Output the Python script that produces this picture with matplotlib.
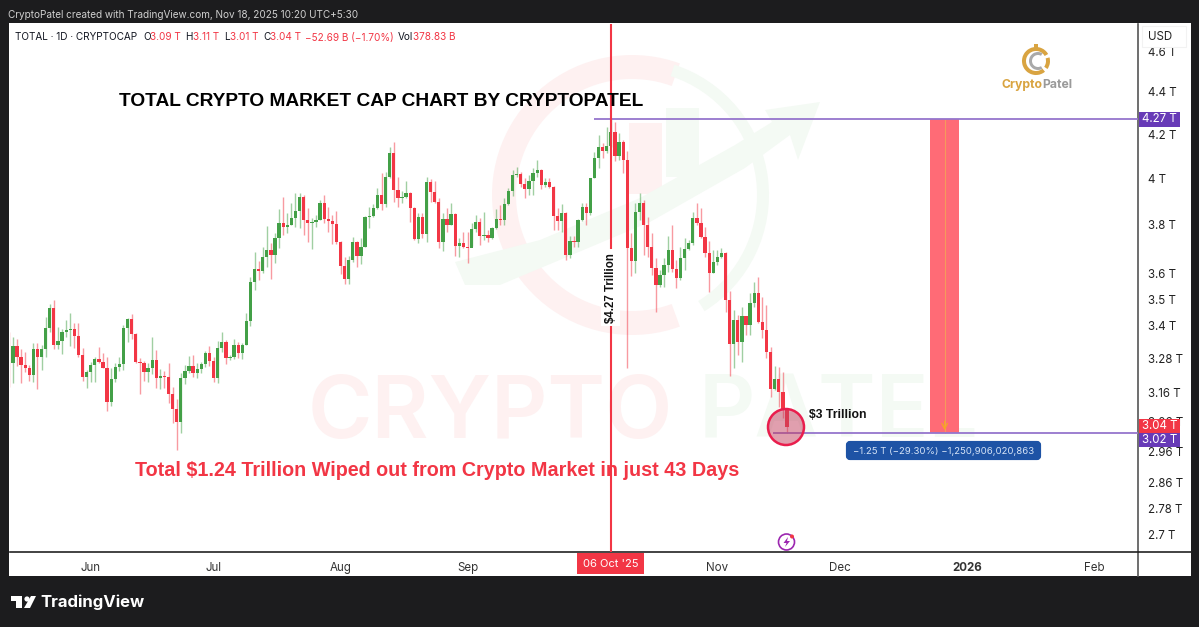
from matplotlib import pyplot as plt
from matplotlib.patches import Circle, Rectangle, Wedge, Polygon, FancyBboxPatch
import numpy as np
import pandas as pd

# Daily candles of TOTAL (trillions of USD)
first_day = '2025-05-12'
first_open = 3.275
closes = [
    3.264, 3.326, 3.286, 3.257, 3.246, 3.221, 3.315, 3.286, 3.315, 3.392,
    3.468, 3.330, 3.344, 3.378, 3.385, 3.389, 3.363, 3.293, 3.214, 3.232,
    3.257, 3.279, 3.268, 3.246, 3.127, 3.207, 3.250, 3.261, 3.392, 3.426,
    3.370, 3.268, 3.264, 3.232, 3.246, 3.275, 3.210, 3.217, 3.214, 3.154,
    3.103, 3.058, 3.210, 3.235, 3.253, 3.228, 3.243, 3.261, 3.300, 3.271,
    3.210, 3.318, 3.341, 3.282, 3.286, 3.330, 3.300, 3.330, 3.418, 3.568,
    3.620, 3.612, 3.668, 3.697, 3.676, 3.746, 3.808, 3.791, 3.800, 3.829,
    3.859, 3.919, 3.821, 3.808, 3.813, 3.821, 3.893, 3.825, 3.817, 3.804,
    3.730, 3.632, 3.580, 3.656, 3.730, 3.672, 3.709, 3.834, 3.838, 3.872,
    3.928, 3.889, 4.006, 4.114, 3.949, 3.915, 3.919, 3.936, 3.872, 3.742,
    3.834, 3.763, 3.984, 3.940, 3.897, 3.730, 3.825, 3.800, 3.846, 3.713,
    3.726, 3.709, 3.705, 3.783, 3.813, 3.754, 3.758, 3.746, 3.787, 3.825,
    3.821, 3.889, 3.945, 4.015, 4.019, 3.975, 3.953, 3.989, 4.024, 4.037,
    3.971, 3.984, 3.962, 3.838, 3.817, 3.850, 3.676, 3.734, 3.730, 3.821,
    3.876, 3.850, 4.002, 4.091, 4.141, 4.123, 4.146, 4.210, 4.100, 4.164,
    4.082, 3.705, 3.652, 3.855, 3.893, 3.800, 3.709, 3.624, 3.556, 3.596,
    3.636, 3.697, 3.620, 3.584, 3.664, 3.701, 3.726, 3.829, 3.808, 3.750,
    3.685, 3.604, 3.648, 3.668, 3.685, 3.499, 3.333, 3.422, 3.341, 3.437,
    3.404, 3.487, 3.526, 3.415, 3.385, 3.304, 3.172, 3.207, 3.161, 3.099,
    3.040]
highs = [
    3.378, 3.359, 3.352, 3.315, 3.304, 3.257, 3.337, 3.337, 3.330, 3.433,
    3.483, 3.499, 3.396, 3.389, 3.422, 3.449, 3.411, 3.411, 3.318, 3.239,
    3.268, 3.286, 3.322, 3.300, 3.286, 3.246, 3.264, 3.286, 3.404, 3.430,
    3.445, 3.374, 3.282, 3.271, 3.264, 3.359, 3.311, 3.243, 3.235, 3.264,
    3.178, 3.137, 3.228, 3.257, 3.289, 3.293, 3.264, 3.268, 3.307, 3.326,
    3.286, 3.344, 3.378, 3.348, 3.293, 3.352, 3.341, 3.337, 3.449, 3.588,
    3.689, 3.652, 3.709, 3.796, 3.726, 3.767, 3.867, 3.919, 3.850, 3.893,
    3.936, 3.936, 3.928, 3.872, 3.829, 3.842, 3.906, 3.928, 3.876, 3.842,
    3.859, 3.734, 3.668, 3.672, 3.750, 3.734, 3.746, 3.838, 3.876, 3.889,
    3.958, 4.024, 4.028, 4.141, 4.164, 4.006, 3.945, 3.989, 3.940, 3.876,
    3.850, 3.850, 4.006, 3.997, 3.989, 3.915, 3.850, 3.872, 3.893, 3.850,
    3.746, 3.771, 3.771, 3.808, 3.842, 3.829, 3.855, 3.779, 3.791, 3.867,
    3.885, 3.915, 3.958, 4.037, 4.051, 4.028, 4.002, 4.015, 4.046, 4.082,
    4.042, 4.002, 4.002, 3.967, 3.872, 3.889, 3.855, 3.754, 3.754, 3.825,
    3.893, 3.893, 4.002, 4.118, 4.196, 4.159, 4.233, 4.270, 4.256, 4.205,
    4.173, 4.123, 3.767, 3.893, 3.936, 3.906, 3.834, 3.767, 3.664, 3.616,
    3.664, 3.754, 3.800, 3.656, 3.709, 3.746, 3.738, 3.855, 3.893, 3.872,
    3.791, 3.734, 3.697, 3.697, 3.705, 3.686, 3.533, 3.460, 3.441, 3.472,
    3.437, 3.526, 3.568, 3.588, 3.510, 3.479, 3.322, 3.253, 3.250, 3.232,
    3.106]
lows = [
    3.178, 3.192, 3.253, 3.192, 3.232, 3.199, 3.196, 3.172, 3.239, 3.286,
    3.378, 3.315, 3.315, 3.297, 3.359, 3.326, 3.318, 3.286, 3.199, 3.175,
    3.196, 3.196, 3.264, 3.246, 3.096, 3.113, 3.196, 3.235, 3.239, 3.341,
    3.352, 3.264, 3.154, 3.199, 3.196, 3.225, 3.175, 3.172, 3.175, 3.123,
    3.055, 2.966, 3.022, 3.189, 3.228, 3.214, 3.210, 3.228, 3.250, 3.253,
    3.196, 3.192, 3.304, 3.261, 3.275, 3.279, 3.282, 3.279, 3.330, 3.400,
    3.537, 3.576, 3.604, 3.628, 3.580, 3.644, 3.705, 3.758, 3.767, 3.800,
    3.791, 3.787, 3.758, 3.730, 3.701, 3.791, 3.821, 3.808, 3.771, 3.722,
    3.722, 3.600, 3.560, 3.560, 3.648, 3.628, 3.640, 3.709, 3.787, 3.834,
    3.867, 3.863, 3.876, 4.002, 3.897, 3.876, 3.893, 3.915, 3.813, 3.738,
    3.726, 3.746, 3.730, 3.897, 3.893, 3.705, 3.693, 3.771, 3.800, 3.672,
    3.668, 3.705, 3.644, 3.713, 3.771, 3.717, 3.738, 3.730, 3.742, 3.783,
    3.800, 3.800, 3.885, 3.923, 4.006, 3.962, 3.915, 3.928, 3.928, 4.006,
    3.953, 3.962, 3.958, 3.779, 3.779, 3.771, 3.656, 3.664, 3.709, 3.709,
    3.817, 3.800, 3.842, 4.002, 4.046, 4.091, 4.114, 4.141, 4.077, 4.082,
    4.024, 3.246, 3.592, 3.604, 3.821, 3.676, 3.668, 3.596, 3.452, 3.549,
    3.549, 3.608, 3.608, 3.545, 3.576, 3.616, 3.697, 3.717, 3.800, 3.746,
    3.668, 3.529, 3.604, 3.636, 3.664, 3.452, 3.218, 3.246, 3.293, 3.268,
    3.366, 3.366, 3.472, 3.411, 3.355, 3.282, 3.144, 3.168, 3.110, 3.072,
    3.020]

# Axis labels
price_ticks = [4.6, 4.4, 4.2, 4, 3.8, 3.6, 3.5, 3.4, 3.28, 3.16, 3.06, 2.96, 2.86, 2.78, 2.7]
price_labels = ['4.6 T', '4.4 T', '4.2 T', '4 T', '3.8 T', '3.6 T', '3.5 T', '3.4 T',
                '3.28 T', '3.16 T', '3.06 T', '2.96 T', '2.86 T', '2.78 T', '2.7 T']
month_ticks = ['2025-06-01', '2025-07-01', '2025-08-01', '2025-09-01',
               '2025-11-01', '2025-12-01', '2026-01-01', '2026-02-01']
month_labels = ['Jun', 'Jul', 'Aug', 'Sep', 'Nov', 'Dec', '2026', 'Feb']

# Drawings on the chart
top_level = 4.27
bottom_level = 3.02
top_level_start = '2025-10-02'
bottom_level_start = '2025-11-14 12:00'
marked_day = '2025-10-06'
zone_start = '2025-12-23'
zone_end = '2025-12-30'

RED = '#F23645'
GREEN = '#43A047'
PURPLE = '#673AB7'
DARK = '#1C1C1E'
FONT = ['Inter', 'DejaVu Sans']
W, H = 1199, 627

plt.rcParams['font.family'] = FONT

dates = pd.date_range(first_day, periods=len(closes))
closes = np.array(closes)
opens = np.r_[first_open, closes[:-1]]
colors = np.where(closes >= opens, GREEN, RED)

fig = plt.figure(figsize=(W / 100, H / 100), dpi=100, facecolor=DARK)


def pixel_axes(z):
    # whole figure in image pixels, used for the page around the chart
    a = fig.add_axes([0, 0, 1, 1], zorder=z)
    a.set_xlim(0, W)
    a.set_ylim(H, 0)
    a.axis('off')
    a.patch.set_alpha(0)
    return a


under = pixel_axes(0)
over = pixel_axes(2)

# White panel
under.add_patch(Rectangle((9, 23), 1182, 553, fc='white', ec='none'))

# Watermark behind the candles
pale_red = '#FEF1F1'
pale_green = '#F4FAF4'
under.add_patch(Wedge((632, 195), 140, 70, 290, width=24, fc=pale_red, ec='none'))
under.add_patch(Wedge((632, 195), 137, -72, 58, width=12, fc=pale_green, ec='none'))
under.add_patch(Rectangle((629, 123), 33, 71, fc=pale_red, ec='none'))
under.add_patch(Rectangle((666, 108), 33, 69, fc=pale_green, ec='none'))
under.plot([682, 682], [177, 198], color=pale_green, lw=1.5)
under.add_patch(Polygon([(455, 262), (540, 240), (640, 198), (735, 145), (772, 122), (765, 110), (820, 102),
                         (798, 160), (790, 135), (745, 168), (650, 222), (555, 262), (500, 285), (465, 285)],
                        fc=pale_green, ec='none'))
under.text(308, 438, 'CRYPTO', color=pale_red, fontsize=63, fontweight='semibold', va='baseline', ha='left')
under.text(699, 438, 'PATEL', color=pale_green, fontsize=63, fontweight='semibold', va='baseline', ha='left')

# Chart axes: x 10-1138, y 24-552 in image pixels
ax = fig.add_axes([10 / W, 1 - 552 / H, 1128 / W, 528 / H], zorder=1)
ax.patch.set_alpha(0)
ax.set_yscale('log')
ax.set_ylim(2.649, 4.742)
ax.set_xlim(pd.Timestamp('2025-05-12 07:00'), pd.Timestamp('2026-02-11 17:00'))

ax.vlines(dates, lows, highs, colors=colors, linewidth=1, alpha=0.5, zorder=2)
body_low = np.minimum(opens, closes)
body_high = np.maximum(opens, closes)
ax.bar(dates, body_high - body_low, bottom=body_low, width=0.8, color=colors, linewidth=0, zorder=3)

# Price range drawings
ax.hlines(top_level, pd.Timestamp(top_level_start), ax.get_xlim()[1], color='#9575CD', lw=1.3, zorder=4)
ax.hlines(bottom_level, pd.Timestamp(bottom_level_start), ax.get_xlim()[1], color='#9575CD', lw=1.3, zorder=4)
ax.fill_between([pd.Timestamp(zone_start), pd.Timestamp(zone_end)], bottom_level, top_level,
                color='#FF6B76', lw=0, zorder=1)
zone_mid = pd.Timestamp(zone_start) + (pd.Timestamp(zone_end) - pd.Timestamp(zone_start)) / 2
ax.vlines(zone_mid, bottom_level, top_level, color='#F59A5A', lw=0.8, zorder=2)
ax.annotate('', xy=(zone_mid, bottom_level), xytext=(zone_mid, 3.07),
            arrowprops=dict(arrowstyle='->', color='#F5A623', lw=0.9), zorder=2)

ax.axvline(pd.Timestamp(marked_day), color=RED, lw=1.5, zorder=4)
ax.text(pd.Timestamp(marked_day), 3.545, '$4.27 Trillion', rotation=90, ha='center', va='center',
        fontsize=8.3, fontweight='bold', color='#111111', zorder=5,
        bbox=dict(fc='white', ec='none', pad=2.5), family=['Liberation Sans'])

# Axes and ticks
ax.yaxis.tick_right()
ax.set_yticks(price_ticks)
ax.set_yticklabels(price_labels)
ax.minorticks_off()
ax.tick_params(axis='y', length=0, pad=7, labelsize=8.3, labelcolor='#222222')
ax.set_xticks(pd.to_datetime(month_ticks))
ax.set_xticklabels(month_labels)
ax.tick_params(axis='x', length=0, pad=7, labelsize=8.3, labelcolor='#333333')
ax.get_xticklabels()[month_labels.index('2026')].set_fontweight('bold')
for side in ['top', 'left']:
    ax.spines[side].set_visible(False)
ax.spines['right'].set_color('#555555')
ax.spines['right'].set_linewidth(1.2)
ax.spines['bottom'].set_color('#222222')
ax.spines['bottom'].set_linewidth(1.2)

# Right scale continues below the plot and under the date line
over.plot([1138, 1138], [552, 576], color='#555555', lw=1.2)
over.plot([1138, 1191], [552, 552], color='#222222', lw=1.2)

# Header
over.text(8, 15, 'CryptoPatel created with TradingView.com, Nov 18, 2025 10:20 UTC+5:30',
          color='#CFCFCF', fontsize=7.2, va='center')
legend_parts = [(15, 'TOTAL · 1D · CRYPTOCAP', '#131722'), (143, 'O', '#131722'), (150, '3.09 T', RED),
                (185, 'H', '#131722'), (193, '3.11 T', RED), (224, 'L', '#131722'), (230, '3.01 T', RED),
                (263, 'C', '#131722'), (270, '3.04 T', RED), (305, '−52.69 B (−1.70%)', RED),
                (398, 'Vol', '#131722'), (413, '378.83 B', RED)]
for x, label, col in legend_parts:
    over.text(x, 37.5, label, color=col, fontsize=7.2, va='center')

over.text(119, 101, 'TOTAL CRYPTO MARKET CAP CHART BY CRYPTOPATEL', color='black', fontsize=13.75,
          fontweight='bold', va='center', family=['Liberation Sans'])
over.text(135, 470, 'Total $1.24 Trillion Wiped out from Crypto Market in just 43 Days', color=RED,
          fontsize=14.2, fontweight='bold', va='center', family=['Liberation Sans'])

# Logo, top right
over.add_patch(Wedge((1036, 61), 14, 50, 330, width=4, fc='#D9A441', ec='none'))
over.add_patch(Wedge((1036, 61), 14, 345, 35, width=4, fc='#D9A441', ec='none'))
over.add_patch(Wedge((1038, 61), 9, 60, 300, width=3, fc='#A9A9A9', ec='none'))
over.add_patch(Rectangle((1034, 44), 4, 4, fc='#D9A441', ec='none'))
over.text(1001, 85, 'Crypto', color='#D9A441', fontsize=8.8, fontweight='bold', va='center')
over.text(1042, 85, 'Patel', color='#9A9A9A', fontsize=8.8, fontweight='bold', va='center')

# Last candle marker
over.add_patch(Circle((786, 427), 18, fc='#C2405F', ec='none', alpha=0.5))
over.add_patch(Circle((786, 427), 18, fc='none', ec='#E91E4D', lw=1.8))
over.text(809, 415, '$3 Trillion', color='#111111', fontsize=8.8, fontweight='bold', va='center',
          family=['Liberation Sans'])

# Measure label
over.add_patch(FancyBboxPatch((848, 443), 191, 15, boxstyle='round,pad=0,rounding_size=2', fc='#1E53A5',
                              ec='#1E53A5', lw=3))
over.text(943.5, 451, '−1.25 T (−29.30%) −1,250,906,020,863', color='#D6E4F7', fontsize=6.9,
          ha='center', va='center')

# Price tags on the scale
for y0, y1, label, col in [(112, 127, '4.27 T', PURPLE), (419, 433, '3.04 T', RED), (433, 447, '3.02 T', PURPLE)]:
    over.add_patch(Rectangle((1139, y0), 41, y1 - y0, fc=col, ec='none'))
    over.text(1159.5, (y0 + y1) / 2, label, color='white', fontsize=8.3, ha='center', va='center')

# Currency box hides the top tick label partly
over.add_patch(Rectangle((1142, 26), 44, 21, fc='white', ec='#F2F2F2', lw=0.8))
over.text(1160, 37, 'USD', color='#222222', fontsize=8.3, ha='center', va='center')

# Date tag of the marked day
over.add_patch(Rectangle((577, 553), 67, 21, fc=RED, ec='none'))
over.text(610.5, 564, "06 Oct '25", color='white', fontsize=8, ha='center', va='center')

# Lightning icon
over.add_patch(Circle((786.5, 542), 8, fc='white', ec='#9C27B0', lw=1.2))
over.add_patch(Polygon([(788, 537), (783.5, 543), (786.5, 543), (785, 547), (790, 541), (787, 541)], fc='#9C27B0', ec='none'))
over.add_patch(Circle((792, 536.5), 2, fc=RED, ec='none'))

# TradingView footer
over.add_patch(Rectangle((11, 596), 11, 5, fc='white', ec='none'))
over.add_patch(Rectangle((16, 596), 6, 12, fc='white', ec='none'))
over.add_patch(Circle((27, 599), 2.6, fc='white', ec='none'))
over.add_patch(Polygon([(31, 596), (36, 596), (30, 608), (24, 608)], fc='white', ec='none'))
over.text(40, 602, 'TradingView', color='white', fontsize=12, fontweight='bold', va='center')

fig.savefig('out.png', dpi=100, facecolor=DARK)
